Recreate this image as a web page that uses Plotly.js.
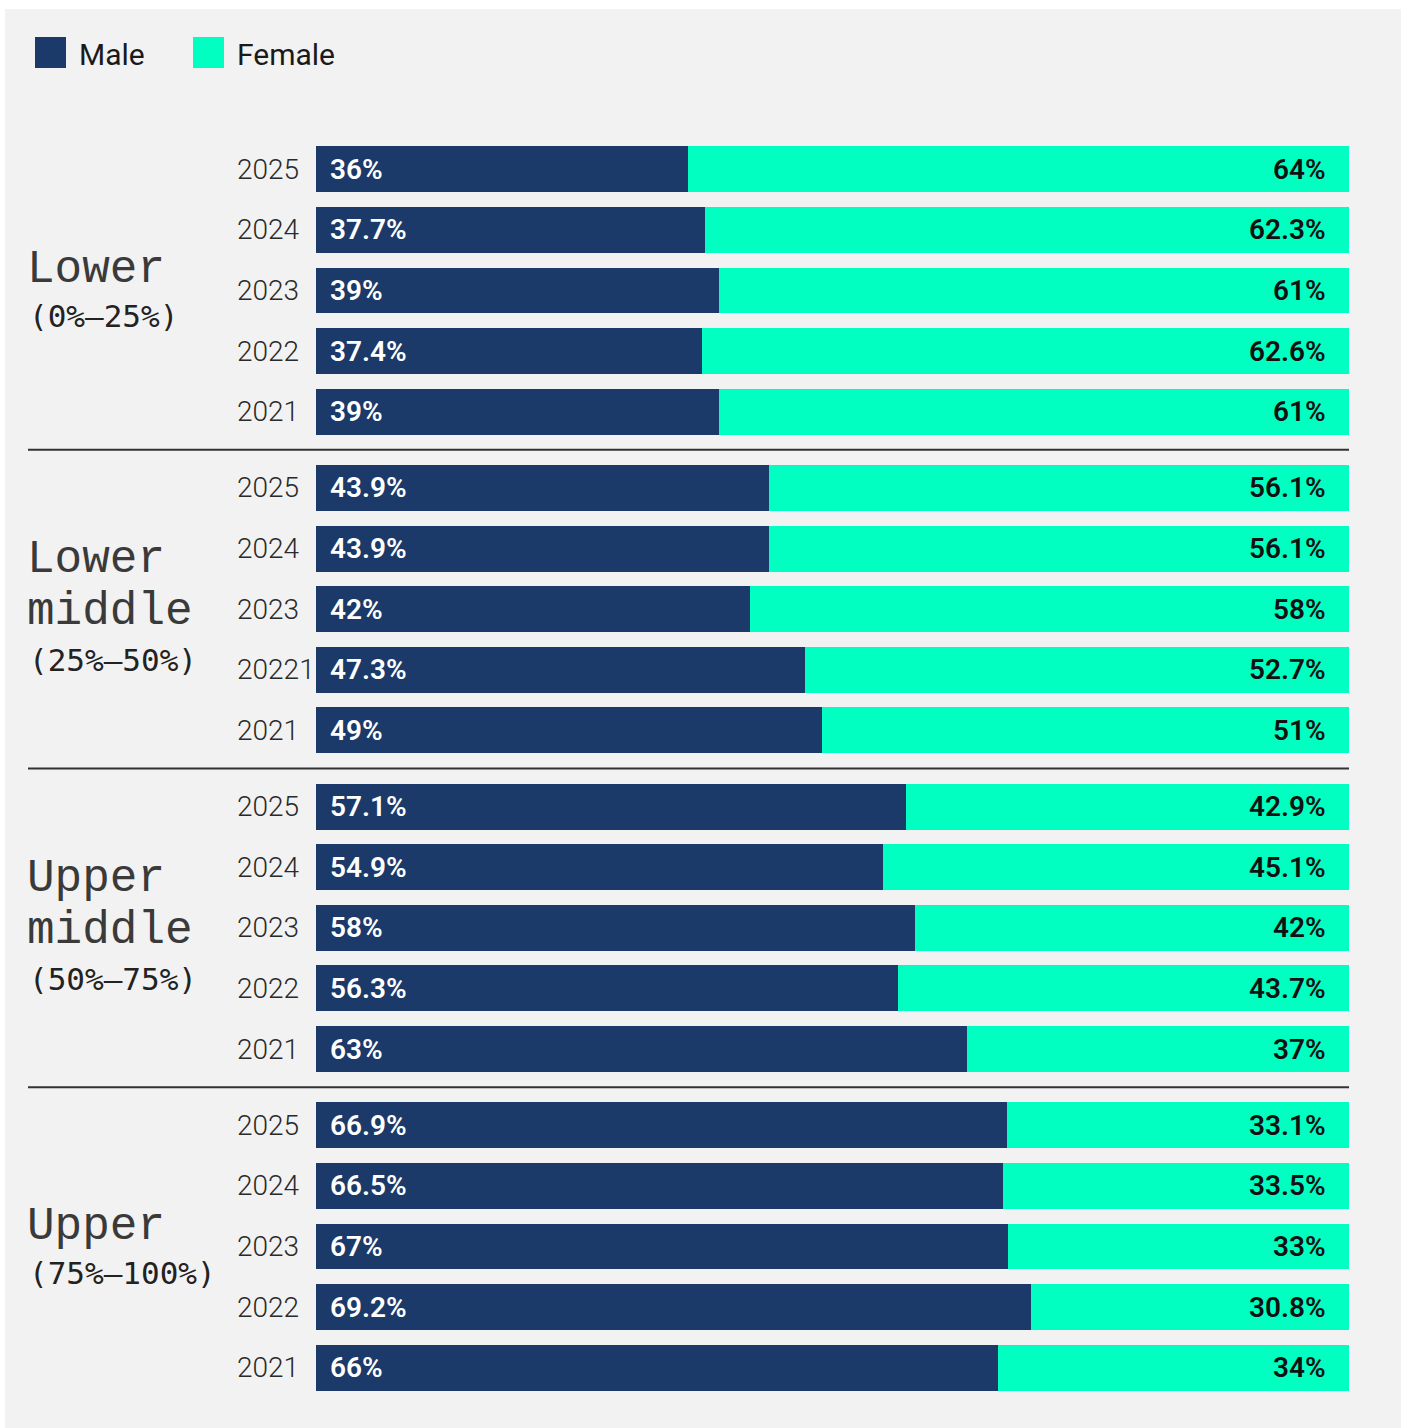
<!DOCTYPE html>
<html>
<head>
<meta charset="utf-8">
<script src="https://cdn.plot.ly/plotly-3.0.1.min.js"></script>
<style>html,body{margin:0;padding:0;background:#fff;}#chart{width:1405px;height:1428px;}</style>
</head>
<body>
<div id="chart"></div>
<script>
// ---- data ----
const groupLines = [["Lower", "(0%–25%)"], ["Lower", "middle", "(25%–50%)"], ["Upper", "middle", "(50%–75%)"], ["Upper", "(75%–100%)"]];
const yearLabels = [
  ["2025", "2024", "2023", "2022", "2021"],
  ["2025", "2024", "2023", "20221", "2021"],
  ["2025", "2024", "2023", "2022", "2021"],
  ["2025", "2024", "2023", "2022", "2021"]
];
const maleValues = [
  [36, 37.7, 39, 37.4, 39],
  [43.9, 43.9, 42, 47.3, 49],
  [57.1, 54.9, 58, 56.3, 63],
  [66.9, 66.5, 67, 69.2, 66]
];
const femaleValues = [
  [64, 62.3, 61, 62.6, 61],
  [56.1, 56.1, 58, 52.7, 51],
  [42.9, 45.1, 42, 43.7, 37],
  [33.1, 33.5, 33, 30.8, 34]
];
const seriesNames = ["Male", "Female"];
const seriesColors = ["#1b3a69", "#00ffc0"];

// ---- layout geometry ----
const W = 1405, H = 1428;
const M = {l: 316, r: 56, t: 139, b: 30};
const plotW = W - M.l - M.r, plotH = H - M.t - M.b;
const GROUP_STEP = 5.259;
const px2x = px => (px - M.l) / plotW;
const px2y = py => (H - M.b - py) / plotH;
const yPos = (g, i) => g * GROUP_STEP + i;

const ys = [], mx = [], fx = [];
maleValues.forEach((arr, g) => arr.forEach((v, i) => { ys.push(yPos(g, i)); mx.push(v); fx.push(femaleValues[g][i]); }));
const yMax = yPos(maleValues.length - 1, 4);

const fmt = v => (Math.round(v * 10) / 10) + "%";

const traces = [
  {type: "bar", orientation: "h", name: seriesNames[0], x: mx, y: ys, width: 0.758,
   marker: {color: seriesColors[0]}, hoverinfo: "skip", showlegend: false},
  {type: "bar", orientation: "h", name: seriesNames[1], x: fx, y: ys, width: 0.758,
   marker: {color: seriesColors[1]}, hoverinfo: "skip", showlegend: false}
];

const annotations = [];
const shapes = [];

// panel background
shapes.push({type: "rect", xref: "paper", yref: "paper", layer: "below",
  x0: px2x(5), x1: px2x(1401), y0: px2y(1428), y1: px2y(9),
  fillcolor: "#f2f2f2", line: {width: 0}});

// legend
const legX = [35, 193];
seriesNames.forEach((n, k) => {
  shapes.push({type: "rect", xref: "paper", yref: "paper",
    x0: px2x(legX[k]), x1: px2x(legX[k] + 31), y0: px2y(68), y1: px2y(37),
    fillcolor: seriesColors[k], line: {width: 0}});
  annotations.push({xref: "paper", yref: "paper", x: px2x(legX[k] + 42), y: px2y(54),
    xanchor: "left", yanchor: "middle", showarrow: false, text: n,
    font: {family: "Roboto", size: 30, color: "#1a1a1a"}});
});

// bar labels & year labels
maleValues.forEach((arr, g) => arr.forEach((v, i) => {
  const y = yPos(g, i);
  annotations.push({xref: "paper", yref: "y", x: 0, y: y, xanchor: "left", yanchor: "middle",
    xshift: 12, showarrow: false, text: fmt(v),
    font: {family: "Roboto", size: 28, weight: 600, color: "#ffffff"}});
  annotations.push({xref: "paper", yref: "y", x: 1, y: y, xanchor: "right", yanchor: "middle",
    xshift: -21, showarrow: false, text: fmt(femaleValues[g][i]),
    font: {family: "Roboto", size: 28, weight: 600, color: "#111111"}});
  annotations.push({xref: "paper", yref: "y", x: px2x(235), y: y, xanchor: "left", yanchor: "middle",
    showarrow: false, text: yearLabels[g][i],
    font: {family: "Roboto", size: 28, weight: 300, color: "#2a2a2a"}});
}));

// group labels
const lineShifts = {2: [20, -26], 3: [49, -3, -51]};
groupLines.forEach((lines, g) => {
  const yc = yPos(g, 2);
  lines.forEach((t, j) => {
    const big = j < lines.length - 1;
    annotations.push({xref: "paper", yref: "y", x: px2x(big ? 25 : 27), y: yc, xanchor: "left", yanchor: "middle",
      yshift: lineShifts[lines.length][j], showarrow: false, text: t,
      font: {family: big ? "Liberation Mono" : "DejaVu Sans Mono", size: big ? 46 : 31, color: big ? "#3a3a3a" : "#222222"}});
  });
  if (g < groupLines.length - 1) {
    const yd = (yPos(g, 4) + yPos(g + 1, 0)) / 2;
    shapes.push({type: "line", xref: "paper", yref: "y", x0: px2x(28), x1: 1, y0: yd, y1: yd,
      line: {color: "#333333", width: 2}});
  }
});

const layout = {
  width: W, height: H, margin: M, barmode: "stack",
  paper_bgcolor: "#ffffff", plot_bgcolor: "rgba(0,0,0,0)",
  showlegend: false,
  xaxis: {range: [0, 100], visible: false, fixedrange: true},
  yaxis: {range: [yMax + 0.5, -0.5], visible: false, fixedrange: true},
  annotations: annotations, shapes: shapes
};

Plotly.newPlot("chart", traces, layout, {displayModeBar: false, staticPlot: true});
</script>
</body>
</html>
